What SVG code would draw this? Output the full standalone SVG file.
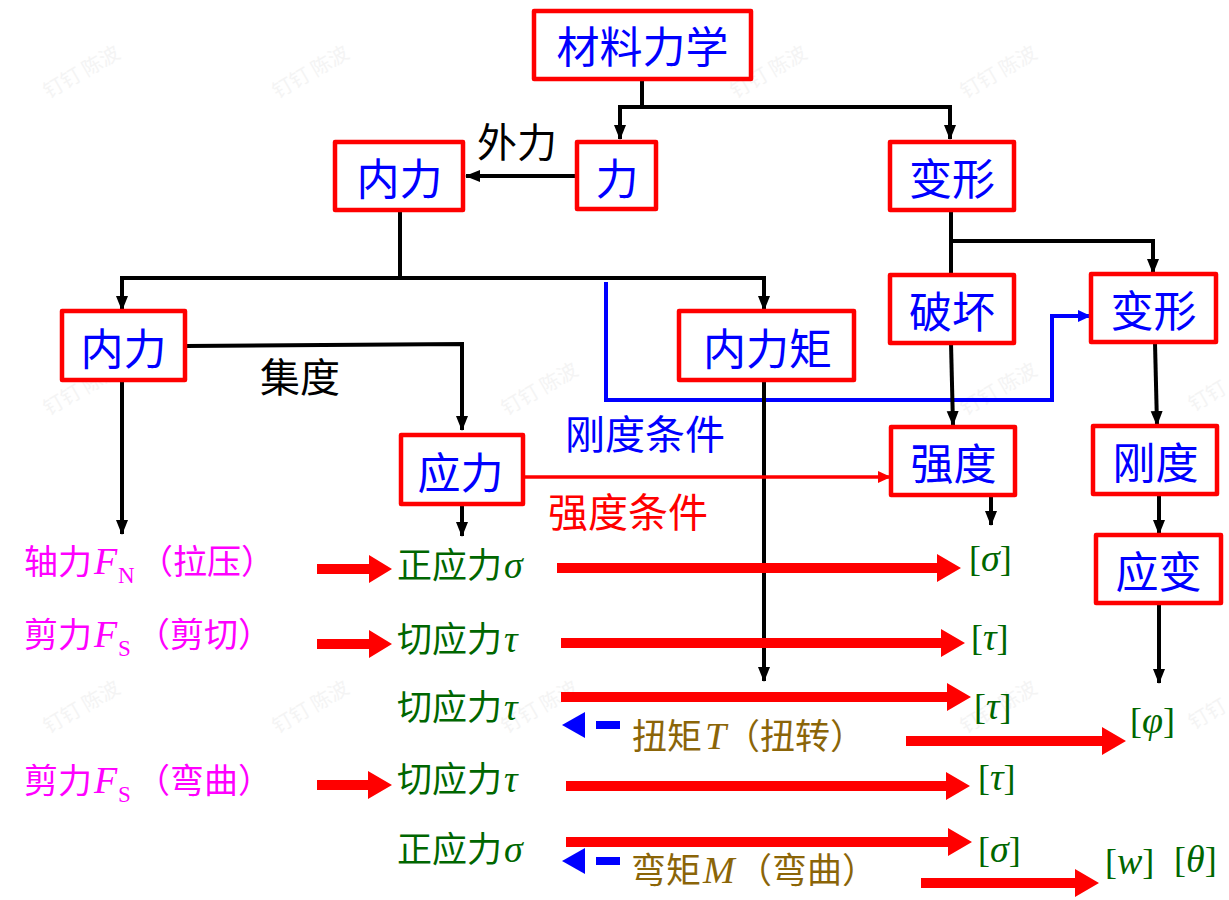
<svg xmlns="http://www.w3.org/2000/svg" width="1229" height="900" viewBox="0 0 1229 900">
<style>
text{font-family:"Noto Sans CJK SC","Liberation Sans",sans-serif}
.box{fill:#fff;stroke:#f00;stroke-width:4.5;stroke-linejoin:round}
.nl{font-size:43px;fill:#00f;text-anchor:middle}
.bk{fill:none;stroke:#000;stroke-width:4}
.rd{fill:#f00}
.bl{fill:#00f}
.m{font-size:34px;fill:#f0f}
.g{font-size:35px;fill:#060}
.br{font-size:35px;fill:#8b6508}
.i{font-family:"Liberation Serif",serif;font-style:italic;font-size:38px}
.s{font-family:"Liberation Serif",serif;font-size:23px}
.lim{font-family:"Liberation Serif",serif;font-size:36px;fill:#060}
.wm{font-size:20px;fill:#f4f4f4}
</style>
<defs>
<marker id="a" markerUnits="userSpaceOnUse" markerWidth="15" markerHeight="13" refX="14" refY="6.500" orient="auto"><path d="M0 0.500L15 6.500L0 12.500Z" fill="#000"/></marker>
<marker id="ab" markerUnits="userSpaceOnUse" markerWidth="13" markerHeight="12" refX="12" refY="6" orient="auto"><path d="M0 0L13 6L0 12Z" fill="#00f"/></marker>
<marker id="ar" markerUnits="userSpaceOnUse" markerWidth="13" markerHeight="12" refX="12" refY="6" orient="auto"><path d="M0 0L13 6L0 12Z" fill="#f00"/></marker>
</defs>
<rect width="1229" height="900" fill="#fff"/>
<g id="watermark" text-anchor="middle">
<text class="wm" transform="translate(85 78) rotate(-30)">钉钉 陈波</text>
<text class="wm" transform="translate(314 78) rotate(-30)">钉钉 陈波</text>
<text class="wm" transform="translate(772 78) rotate(-30)">钉钉 陈波</text>
<text class="wm" transform="translate(1002 78) rotate(-30)">钉钉 陈波</text>
<text class="wm" transform="translate(85 395) rotate(-30)">钉钉 陈波</text>
<text class="wm" transform="translate(543 395) rotate(-30)">钉钉 陈波</text>
<text class="wm" transform="translate(1002 395) rotate(-30)">钉钉 陈波</text>
<text class="wm" transform="translate(1211 402) rotate(-30)">钉钉</text>
<text class="wm" transform="translate(85 713) rotate(-30)">钉钉 陈波</text>
<text class="wm" transform="translate(314 713) rotate(-30)">钉钉 陈波</text>
<text class="wm" transform="translate(543 713) rotate(-30)">钉钉 陈波</text>
<text class="wm" transform="translate(1002 713) rotate(-30)">钉钉 陈波</text>
<text class="wm" transform="translate(1211 720) rotate(-30)">钉钉</text>
</g>
<g id="connectors">
<path class="bk" d="M642 79V107H620V139" marker-end="url(#a)"/>
<path class="bk" d="M642 107H950V139" marker-end="url(#a)"/>
<path class="bk" d="M577 176H466" marker-end="url(#a)"/>
<path class="bk" d="M400 210V278H122V310" marker-end="url(#a)"/>
<path class="bk" d="M400 278H764V310" marker-end="url(#a)"/>
<path d="M606 282V400H1052V316H1090" fill="none" stroke="#00f" stroke-width="4" marker-end="url(#ab)"/>
<path class="bk" d="M186 346L462 344V430" marker-end="url(#a)"/>
<path class="bk" d="M122 380V534" marker-end="url(#a)"/>
<path class="bk" d="M462 504V536" marker-end="url(#a)"/>
<path class="bk" d="M764 380V681" marker-end="url(#a)"/>
<path class="bk" d="M951 210V274"/>
<path class="bk" d="M951 241H1153V273" marker-end="url(#a)"/>
<path class="bk" d="M951 343L953 425" marker-end="url(#a)"/>
<path class="bk" d="M991 495V525" marker-end="url(#a)"/>
<path class="bk" d="M1155 343L1157 425" marker-end="url(#a)"/>
<path class="bk" d="M1159 494V534" marker-end="url(#a)"/>
<path class="bk" d="M1159 603V683" marker-end="url(#a)"/>
<path d="M525 477H890" fill="none" stroke="#f00" stroke-width="3.500" marker-end="url(#ar)"/>
<path class="rd" d="M317 564H369V555L392 569L369 583V574H317Z"/>
<path class="rd" d="M317 639H369V630L392 644L369 658V649H317Z"/>
<path class="rd" d="M317 780H368V771L392 785L368 799V790H317Z"/>
<path class="rd" d="M557 563H937V554L961 568L937 582V573H557Z"/>
<path class="rd" d="M561 638H941V629L965 643L941 657V648H561Z"/>
<path class="rd" d="M561 692H947V683L971 697L947 711V702H561Z"/>
<path class="rd" d="M566 781H946V772L970 786L946 800V791H566Z"/>
<path class="rd" d="M566 837H948V828L972 842L948 856V847H566Z"/>
<path class="rd" d="M906 736H1102V727L1126 741L1102 755V746H906Z"/>
<path class="rd" d="M921 878H1075V869L1099 883L1075 897V888H921Z"/>
<path class="bl" d="M562 725L585 712V738Z"/><rect class="bl" x="596" y="721" width="24" height="8"/>
<path class="bl" d="M562 861L585 848V874Z"/><rect class="bl" x="596" y="857" width="24" height="8"/>
</g>
<g id="n-root"><rect class="box" x="534" y="11" width="217" height="68"/><text class="nl" x="642.500" y="63">材料力学</text></g>
<g id="n-li"><rect class="box" x="577" y="142" width="79" height="67"/><text class="nl" x="617" y="195">力</text></g>
<g id="n-neili"><rect class="box" x="335" y="142" width="128" height="68"/><text class="nl" x="399.500" y="195">内力</text></g>
<g id="n-bianxing"><rect class="box" x="890" y="142" width="124" height="68"/><text class="nl" x="952" y="195">变形</text></g>
<g id="n-pohuai"><rect class="box" x="890" y="275" width="124" height="68"/><text class="nl" x="952" y="328">破坏</text></g>
<g id="n-bianxing2"><rect class="box" x="1091" y="274" width="125" height="68"/><text class="nl" x="1153.500" y="327">变形</text></g>
<g id="n-neili2"><rect class="box" x="62" y="311" width="123" height="69"/><text class="nl" x="123.500" y="365">内力</text></g>
<g id="n-neilizhu"><rect class="box" x="679" y="311" width="175" height="69"/><text class="nl" x="767.500" y="365">内力矩</text></g>
<g id="n-yingli"><rect class="box" x="401" y="435" width="122" height="69"/><text class="nl" x="460.500" y="489">应力</text></g>
<g id="n-qiangdu"><rect class="box" x="891" y="427" width="124" height="68"/><text class="nl" x="953.500" y="480">强度</text></g>
<g id="n-gangdu"><rect class="box" x="1093" y="426" width="124" height="68"/><text class="nl" x="1155.500" y="479">刚度</text></g>
<g id="n-yingbian"><rect class="box" x="1096" y="535" width="125" height="68"/><text class="nl" x="1158.500" y="588">应变</text></g>
<g id="labels">
<text x="477" y="157" font-size="40">外力</text>
<text x="260" y="392" font-size="40">集度</text>
<text x="565" y="449" font-size="40" fill="#00f">刚度条件</text>
<text x="548" y="527" font-size="40" fill="#f00">强度条件</text>
<text class="m" y="574"><tspan x="24">轴力</tspan><tspan x="94" class="i">F</tspan><tspan x="118" y="583" class="s">N</tspan><tspan x="139" y="574">（拉压）</tspan></text>
<text class="m" y="647"><tspan x="24">剪力</tspan><tspan x="94" class="i">F</tspan><tspan x="118" y="656" class="s">S</tspan><tspan x="136" y="647">（剪切）</tspan></text>
<text class="m" y="793"><tspan x="24">剪力</tspan><tspan x="94" class="i">F</tspan><tspan x="118" y="802" class="s">S</tspan><tspan x="136" y="793">（弯曲）</tspan></text>
<text class="g" y="578"><tspan x="397">正应力</tspan><tspan x="504" class="i">σ</tspan></text>
<text class="g" y="652"><tspan x="397">切应力</tspan><tspan x="504" class="i">τ</tspan></text>
<text class="g" y="720"><tspan x="397">切应力</tspan><tspan x="504" class="i">τ</tspan></text>
<text class="g" y="792"><tspan x="397">切应力</tspan><tspan x="504" class="i">τ</tspan></text>
<text class="g" y="862"><tspan x="397">正应力</tspan><tspan x="504" class="i">σ</tspan></text>
<text class="br" y="749"><tspan x="632">扭矩</tspan><tspan x="705" class="i">T</tspan><tspan x="725">（扭转）</tspan></text>
<text class="br" y="883"><tspan x="631">弯矩</tspan><tspan x="703" class="i">M</tspan><tspan x="737">（弯曲）</tspan></text>
<text class="lim" x="969" y="571">[<tspan class="i">σ</tspan>]</text>
<text class="lim" x="971" y="650">[<tspan class="i">τ</tspan>]</text>
<text class="lim" x="974" y="719">[<tspan class="i">τ</tspan>]</text>
<text class="lim" x="978" y="790">[<tspan class="i">τ</tspan>]</text>
<text class="lim" x="978" y="862">[<tspan class="i">σ</tspan>]</text>
<text class="lim" x="1130" y="733">[<tspan class="i">φ</tspan>]</text>
<text class="lim" x="1105" y="874">[<tspan class="i">w</tspan>]</text>
<text class="lim" x="1174" y="872">[<tspan class="i">θ</tspan>]</text>
</g>
</svg>
